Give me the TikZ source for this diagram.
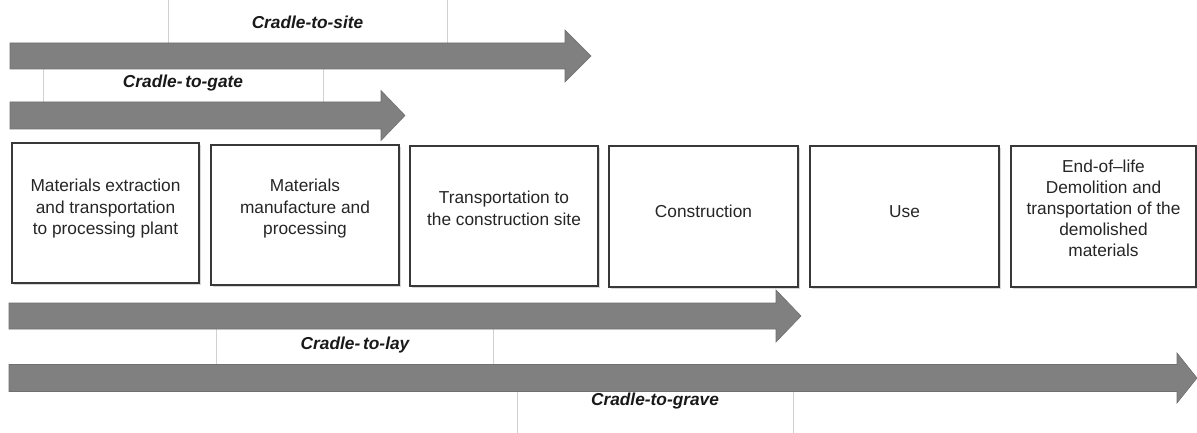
\documentclass[tikz,border=0pt]{standalone}
\usepackage{fontspec}
\setmainfont{Liberation Sans}
\usetikzlibrary{shadows}
\tikzset{
  stage/.style={draw=black!78, line width=1.6pt, fill=white, align=center, inner sep=2pt,
    font=\fontsize{17.3}{21.5}\selectfont, text=black!85,
    drop shadow={shadow xshift=1.8pt, shadow yshift=-2pt, fill=black!30, opacity=0.5}},
  lab/.style={font=\fontsize{17.3}{20}\selectfont\bfseries\itshape, text=black!90, inner sep=0pt},
  sideline/.style={draw=black!18, line width=0.7pt},
  band/.style={fill=black!50, draw=black!56, line width=0.6pt},
}
\newcommand\lcband[6]{% x0, xbase, xtip, yc, shafthalf, headhalf
  \filldraw[band] (#1,#4-#5) -- (#2,#4-#5) -- (#2,#4-#6) -- (#3,#4) -- (#2,#4+#6) -- (#2,#4+#5) -- (#1,#4+#5) -- cycle;}
\newcommand\stxt[2][6pt]{\raisebox{#1}[\height][\depth]{\begin{tabular}{@{}c@{}}#2\end{tabular}}}
\begin{document}
\begin{tikzpicture}[x=1pt, y=-1pt]
\useasboundingbox[fill=white] (0,0) rectangle (1197,433);

% label side lines
\coordinate (s1) at (168,0);   \coordinate (s2) at (447,0);
\coordinate (g1) at (43,69);   \coordinate (g2) at (323,69);
\coordinate (l1) at (216,329); \coordinate (l2) at (493,329);
\coordinate (r1) at (517,391); \coordinate (r2) at (793,391);
\draw[sideline] (s1) -- ++(0,43) (s2) -- ++(0,43);
\draw[sideline] (g1) -- ++(0,33) (g2) -- ++(0,33);
\draw[sideline] (l1) -- ++(0,35) (l2) -- ++(0,35);
\draw[sideline] (r1) -- ++(0,42) (r2) -- ++(0,42);

% labels
\node[lab] (lsite)  at (307.5,22) {Cradle-to-site};
\node[lab] (lgate)  at (183,83)   {Cradle-\,to-gate};
\node[lab] (llay)   at (355,345) {Cradle-\,to-lay};
\node[lab] (lgrave) at (655,401)  {Cradle-to-grave};

% bands
\lcband{10}{565}{591}{56}{13}{26}
\lcband{10}{381}{405}{115.5}{13.5}{25}
\lcband{9}{776}{801}{316}{13}{26}
\lcband{9}{1177}{1197}{378}{13.5}{25}

% stages
\node[stage, minimum width=187pt, minimum height=140pt] (b1) at (105.5,213) {\stxt[4pt]{Materials extraction\\and transportation\\to processing plant}};
\node[stage, minimum width=188pt, minimum height=140pt] (b2) at (305,215) {\stxt[6pt]{Materials\\manufacture and\\processing}};
\node[stage, minimum width=188pt, minimum height=140pt] (b3) at (504,216) {\stxt[6pt]{Transportation to\\the construction site}};
\node[stage, minimum width=189pt, minimum height=141pt] (b4) at (703.5,216.5) {\stxt[3pt]{Construction}};
\node[stage, minimum width=189pt, minimum height=141pt] (b5) at (904.5,216.5) {\stxt[3pt]{Use}};
\node[stage, minimum width=185pt, minimum height=141pt, font=\fontsize{17.3}{21}\selectfont] (b6) at (1103.5,216.5) {\stxt[6pt]{End-of–life\\Demolition and\\transportation of the\\demolished\\materials}};
\end{tikzpicture}
\end{document}
